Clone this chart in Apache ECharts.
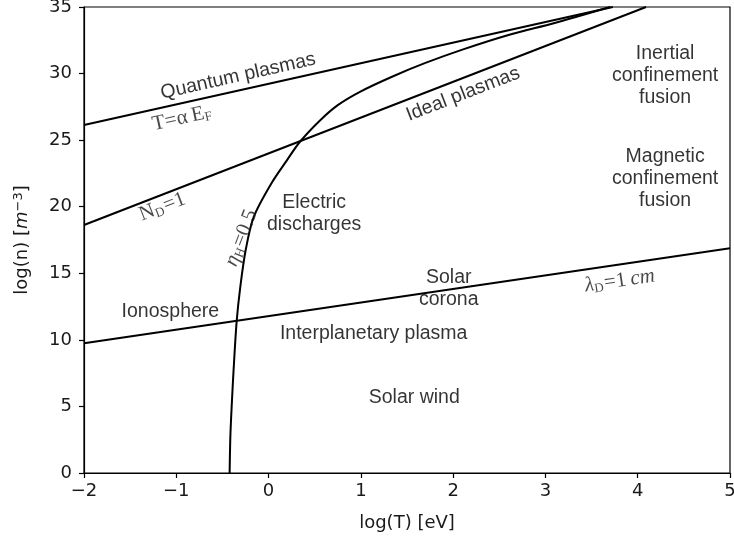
<!DOCTYPE html>
<html>
<head>
<meta charset="utf-8">
<script src="https://cdn.jsdelivr.net/npm/echarts@6/dist/echarts.min.js"></script>
<style>html,body{margin:0;padding:0;background:#fff}#chart{width:734px;height:540px}</style>
</head>
<body>
<div id="chart"></div>
<script>
// ---- data (log T [eV], log n [m^-3]) ----
const xTicks = [-2, -1, 0, 1, 2, 3, 4, 5];
const yTicks = [0, 5, 10, 15, 20, 25, 30, 35];
const quantumLine = [[-2, 26.13], [3.73, 35]];      // T = alpha E_F
const idealLine   = [[-2, 18.63], [4.09, 35]];      // N_D = 1
const debyeLine   = [[-2, 9.75], [5, 16.88]];       // lambda_D = 1 cm
const etaCurve = [[-0.422, 0], [-0.414, 2.75], [-0.398, 5.25], [-0.379, 7.75], [-0.346, 11.37],
  [-0.306, 14], [-0.248, 16.75], [-0.16, 19.25], [0.03, 21.75], [0.2, 23.5],
  [0.34, 24.88], [0.56, 26.5], [0.75, 27.63], [0.99, 28.63], [1.35, 29.8], [1.7, 30.8],
  [2.1, 31.8], [2.6, 32.9], [3.1, 33.8], [3.7, 35]];

// region labels: text, x, y, angle
const regionTexts  = ['Quantum plasmas', 'Ideal plasmas', 'Electric\ndischarges', 'Inertial\nconfinement\nfusion',
  'Magnetic\nconfinement\nfusion', 'Ionosphere', 'Solar\ncorona', 'Interplanetary plasma', 'Solar wind'];
const regionX      = [-0.33, 2.107, 0.494, 4.297, 4.297, -1.064, 1.952, 1.139, 1.579];
const regionY      = [29.8, 28.45, 19.45, 29.88, 22.08, 12.12, 13.83, 10.5, 5.63];
const regionAngles = [12.6, 21.2, 0, 0, 0, 0, 0, 0, 0];

// math labels
const mathTexts  = ['{s|T=\u03b1\u2009E}{sub|F}', '{s|N}{sub|D}{s|=1}', '{it|\u03b7}{sub|H}{s|=0.5}', '{it|\u03bb}{sub|D}{s|=1\u2009}{it|cm}'];
const mathX      = [-0.934, -1.15, -0.295, 3.806];
const mathY      = [26.65, 19.98, 17.65, 14.43];
const mathAngles = [12.6, 21.2, 69, 8.4];

const chart = echarts.init(document.getElementById('chart'));
const lineStyle = {color: '#000', width: 2};
function lineSeries(d, smooth) {
  return {type: 'line', data: d, showSymbol: false, symbol: 'none', smooth: smooth || false,
    lineStyle: lineStyle, clip: true, silent: true, z: 3};
}
const mathRich = {
  s: {fontFamily: 'Liberation Serif', fontSize: 21, color: '#1a1a1a'},
  it: {fontFamily: 'Liberation Serif', fontStyle: 'italic', fontSize: 21, color: '#1a1a1a'},
  sub: {fontFamily: 'Liberation Serif', fontSize: 13, color: '#1a1a1a', verticalAlign: 'bottom', padding: [9, 1, 0, 0]}
};
chart.setOption({
  animation: false,
  backgroundColor: '#fff',
  grid: {left: 84, right: 4, top: 7, bottom: 67, show: true, borderColor: '#000', borderWidth: 1.2,
    containLabel: false, outerBoundsMode: 'none'},
  xAxis: {
    type: 'value', min: xTicks[0], max: xTicks[xTicks.length - 1], interval: 1,
    name: 'log(T) [eV]', nameLocation: 'middle', nameGap: 41,
    nameTextStyle: {fontFamily: 'DejaVu Sans', fontSize: 18, color: '#1a1a1a'},
    axisLine: {show: true, onZero: false, lineStyle: {color: '#000', width: 1.2}},
    axisTick: {show: true, inside: false, length: 5, lineStyle: {color: '#000', width: 1.2}},
    axisLabel: {fontFamily: 'DejaVu Sans', fontSize: 18, color: '#1a1a1a', margin: 9,
      formatter: v => (v < 0 ? '\u2212' + Math.abs(v) : '' + v)},
    splitLine: {show: false}
  },
  yAxis: {
    type: 'value', min: yTicks[0], max: yTicks[yTicks.length - 1], interval: 5,
    name: 'log(n) [{it|m}{sup|\u22123}]', nameLocation: 'middle', nameGap: 51, nameRotate: 90,
    nameTextStyle: {fontFamily: 'DejaVu Sans', fontSize: 18, color: '#1a1a1a',
      rich: {it: {fontFamily: 'DejaVu Sans', fontStyle: 'italic', fontSize: 18, color: '#1a1a1a'},
             sup: {fontFamily: 'DejaVu Sans', fontSize: 13, color: '#1a1a1a', verticalAlign: 'top', padding: [0, 0, 8, 0]}}},
    axisLine: {show: true, onZero: false, lineStyle: {color: '#000', width: 1.2}},
    axisTick: {show: true, inside: false, length: 5, lineStyle: {color: '#000', width: 1.2}},
    axisLabel: {fontFamily: 'DejaVu Sans', fontSize: 18, color: '#1a1a1a', margin: 12},
    splitLine: {show: false}
  },
  series: [
    lineSeries(quantumLine),
    lineSeries(idealLine),
    lineSeries(debyeLine),
    lineSeries(etaCurve, 0.3),
    {
      type: 'scatter', symbolSize: 0, silent: true, z: 5,
      data: regionTexts.map((t, i) => ({
        value: [regionX[i], regionY[i]], name: t,
        label: {show: true, position: 'inside', formatter: t, rotate: regionAngles[i],
          fontFamily: 'Liberation Sans', fontSize: 19.5, lineHeight: 22, color: '#000', align: 'center', verticalAlign: 'middle'}
      }))
    },
    {
      type: 'scatter', symbolSize: 0, silent: true, z: 5,
      data: mathTexts.map((t, i) => ({
        value: [mathX[i], mathY[i]],
        label: {show: true, position: 'inside', formatter: t, rotate: mathAngles[i], rich: mathRich,
          align: 'center', verticalAlign: 'middle'}
      }))
    }
  ]
});
</script>
</body>
</html>
